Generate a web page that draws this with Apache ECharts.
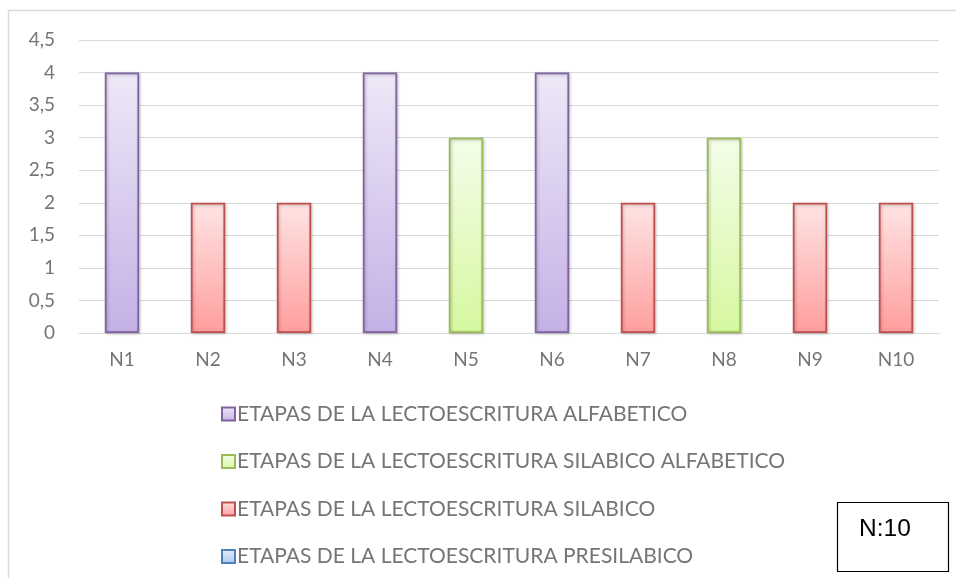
<!DOCTYPE html>
<html><head><meta charset="utf-8">
<script src="https://cdn.jsdelivr.net/npm/echarts@6/dist/echarts.min.js"></script>
<style>html,body{margin:0;padding:0;background:#fff}#c{width:956px;height:578px}</style>
</head><body><div id="c"></div>
<script>
const categories = ['N1','N2','N3','N4','N5','N6','N7','N8','N9','N10'];
const seriesNames = [
  'ETAPAS DE LA LECTOESCRITURA ALFABETICO',
  'ETAPAS DE LA LECTOESCRITURA SILABICO ALFABETICO',
  'ETAPAS DE LA LECTOESCRITURA SILABICO',
  'ETAPAS DE LA LECTOESCRITURA PRESILABICO'
];
const alfabetico        = [4,'-','-',4,'-',4,'-','-','-','-'];
const silabicoAlfabetico= ['-','-','-','-',3,'-','-',3,'-','-'];
const silabico          = ['-',2,2,'-','-','-',2,'-',2,2];
const presilabico       = ['-','-','-','-','-','-','-','-','-','-'];
const noteText = 'N:10';

const palette = [
  {border:'#8064A2', top:'#EEE8F7', bottom:'#C4B1E6'},
  {border:'#9BBB59', top:'#F4FDEA', bottom:'#D6F8A0'},
  {border:'#C0504D', top:'#FFE4E4', bottom:'#FF9E9E'},
  {border:'#4F81BD', top:'#E4EEFB', bottom:'#A9C8F2'}
];
const values = [alfabetico, silabicoAlfabetico, silabico, presilabico];
const chart = echarts.init(document.getElementById('c'));
const font = 'Lato';
const txt = '#757575';
chart.setOption({
  animation:false,
  textStyle:{fontFamily:font},
  grid:{left:79,right:17,top:40,bottom:245,containLabel:false},
  legend:{
    orient:'vertical', left:216, top:397, itemWidth:13, itemHeight:13, itemGap:23.5,
    icon:'rect',
    textStyle:{fontFamily:font,fontSize:21,lineHeight:24,color:txt,padding:[0,0,0,-3]},
    data:seriesNames
  },
  xAxis:{type:'category',data:categories,
    axisLine:{lineStyle:{color:'#D9D9D9',width:1}},axisTick:{show:false},
    axisLabel:{color:txt,fontSize:19,fontFamily:font,margin:17}},
  yAxis:{type:'value',min:0,max:4.5,interval:0.5,
    axisLine:{show:false},axisTick:{show:false},
    splitLine:{lineStyle:{color:'#D9D9D9',width:1}},
    axisLabel:{color:txt,fontSize:19,fontFamily:font,margin:24,
      formatter:v=>String(v).replace('.',',')}},
  series: seriesNames.map((n,i)=>({
    name:n,type:'bar',stack:'a',barWidth:'40%',data:values[i],
    itemStyle:{
      color:new echarts.graphic.LinearGradient(0,0,0,1,[{offset:0,color:palette[i].top},{offset:1,color:palette[i].bottom}]),
      borderColor:palette[i].border,borderWidth:1.8,
      shadowBlur:3,shadowColor:'rgba(0,0,0,0.25)',shadowOffsetX:1,shadowOffsetY:1
    }
  })),
  graphic:[
    {type:'line',shape:{x1:8.5,y1:10.5,x2:956,y2:10.5},style:{stroke:'#D9D9D9',lineWidth:1.5}},
    {type:'line',shape:{x1:8.5,y1:10.5,x2:8.5,y2:578},style:{stroke:'#D9D9D9',lineWidth:1.5}},
    {type:'rect',shape:{x:837.5,y:502.5,width:111,height:69},style:{fill:'#fff',stroke:'#000',lineWidth:1.2}},
    {type:'text',x:885,y:529,style:{text:noteText,font:'24.5px "Liberation Sans"',fill:'#000',align:'center',verticalAlign:'middle'}}
  ]
});
</script></body></html>
